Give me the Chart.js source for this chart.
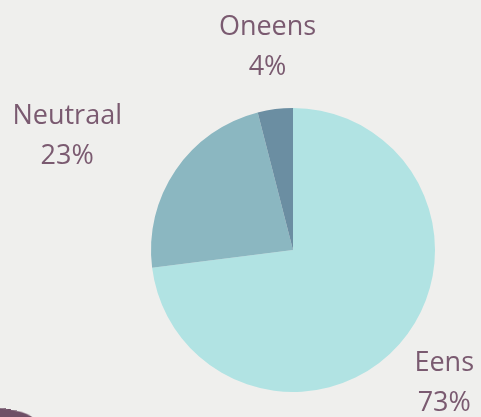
<!DOCTYPE html>
<html>
<head>
<meta charset="utf-8">
<script src="https://cdn.jsdelivr.net/npm/chart.js@4"></script>
<style>
  html, body { margin: 0; padding: 0; background: #efefed; }
  #wrap { position: relative; width: 481px; height: 417px; overflow: hidden; }
  #stroke { position: absolute; left: -18px; top: 409px; width: 52px; height: 12px;
            background: #6e4f66; border-radius: 50%; transform: rotate(10deg); }
</style>
</head>
<body>
<div id="wrap">
  <canvas id="pieChart" width="481" height="417"></canvas>
  <div id="stroke"></div>
</div>
<script>
const categories = ['Eens', 'Neutraal', 'Oneens'];
const percentages = [73, 23, 4];
const sliceColors = ['#b1e3e3', '#8bb7c1', '#6b8ea2'];

// label placement relative to each slice's middle direction
const labelPlacement = {
    distance: [1.42, 1.65, 1.43],
    shift: [[0, 0], [-32, 18], [0, -1]]
};

const outsideLabels = {
    id: 'outsideLabels',
    afterDraw(chart) {
        const ctx = chart.ctx;
        const arcs = chart.getDatasetMeta(0).data;
        ctx.save();
        ctx.fillStyle = '#7a5a70';
        ctx.font = '27px "Open Sans", Lato, sans-serif';
        ctx.textAlign = 'center';
        ctx.textBaseline = 'middle';
        arcs.forEach((arc, i) => {
            const mid = (arc.startAngle + arc.endAngle) / 2;
            const r = arc.outerRadius * labelPlacement.distance[i];
            const x = arc.x + Math.cos(mid) * r + labelPlacement.shift[i][0];
            const y = arc.y + Math.sin(mid) * r + labelPlacement.shift[i][1];
            ctx.fillText(categories[i], x, y - 20);
            ctx.fillText(percentages[i] + '%', x, y + 20);
        });
        ctx.restore();
    }
};

new Chart(document.getElementById('pieChart'), {
    type: 'pie',
    data: {
        labels: categories,
        datasets: [{
            data: percentages,
            backgroundColor: sliceColors,
            borderWidth: 0
        }]
    },
    options: {
        responsive: false,
        animation: false,
        layout: { padding: { left: 151, right: 46, top: 108, bottom: 25 } },
        plugins: {
            legend: { display: false },
            tooltip: { enabled: false }
        }
    },
    plugins: [outsideLabels]
});
</script>
</body>
</html>
